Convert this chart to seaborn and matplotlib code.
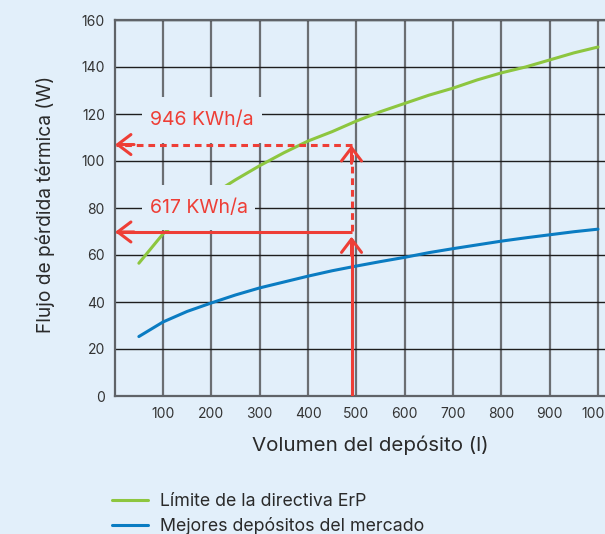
import matplotlib
matplotlib.use("Agg")
import matplotlib.pyplot as plt
from matplotlib.patches import Rectangle
import seaborn as sns
import pandas as pd

# ---------------- data ----------------
volumes = [50, 100, 150, 200, 250, 300, 350, 400, 450, 500,
           550, 600, 650, 700, 750, 800, 850, 900, 950, 1000]
erp_limit = [56.5, 69.0, 78.0, 85.5, 92.0, 98.0, 103.5, 108.5, 112.5, 117.0,
             121.0, 124.5, 128.0, 131.0, 134.5, 137.5, 140.0, 143.0, 146.0, 148.5]
best_market = [25.3, 31.5, 36.0, 39.6, 43.0, 46.0, 48.5, 51.0, 53.3, 55.3,
               57.2, 59.0, 61.0, 62.7, 64.3, 65.9, 67.3, 68.6, 69.9, 71.0]
series_names = ["Límite de la directiva ErP", "Mejores depósitos del mercado"]

x_ticks = [100, 200, 300, 400, 500, 600, 700, 800, 900, 1000]
y_ticks = [0, 20, 40, 60, 80, 100, 120, 140, 160]

sel_volume = 490
loss_erp = 107
loss_best = 69.8
label_erp = "946 KWh/a"
label_best = "617 KWh/a"

# ---------------- style ----------------
BG = "#E2EFFA"
GREEN = "#8DC63F"
BLUE = "#0A7CC2"
RED = "#EE3E36"
TXT = "#2a2a2a"
SPINE = "#5f6368"

sns.set_theme(style="white")
plt.rcParams["font.family"] = ["Inter", "DejaVu Sans"]

fig = plt.figure(figsize=(6.05, 5.34), dpi=100, facecolor=BG)
W, H = 605, 534
left_px, right_px, top_px, bottom_px = 114.7, 605, 20, 396
ax = fig.add_axes([left_px / W, 1 - bottom_px / H,
                   (right_px - left_px) / W, (bottom_px - top_px) / H])
ax.set_facecolor(BG)

df = pd.DataFrame({
    "Volumen": volumes * 2,
    "Flujo": erp_limit + best_market,
    "Serie": [series_names[0]] * len(volumes) + [series_names[1]] * len(volumes),
})
sns.lineplot(data=df, x="Volumen", y="Flujo", hue="Serie",
             palette=[GREEN, BLUE], linewidth=2.2, ax=ax, zorder=2,
             legend=True)

ax.set_xlim(0, 1014.5)
ax.set_ylim(0, 160)
ax.set_xticks(x_ticks)
ax.set_yticks(y_ticks)
ax.tick_params(axis="both", length=0, labelsize=10, labelcolor="#333333")
ax.tick_params(axis="x", pad=8)
ax.tick_params(axis="y", pad=7)

ax.set_axisbelow(True)
ax.grid(axis="x", color="#6b6e72", linewidth=1.6)
ax.grid(axis="y", color="#1e1e1e", linewidth=1.0)

for side in ["left", "bottom", "top"]:
    ax.spines[side].set_visible(True)
    ax.spines[side].set_color(SPINE)
    ax.spines[side].set_linewidth(1.6)
ax.spines["right"].set_visible(False)

ax.set_xlabel("Volumen del depósito (l)", fontsize=14.8, color=TXT, va="center")
ax.xaxis.set_label_coords(0.521, -0.130)
ax.set_ylabel("Flujo de pérdida térmica (W)", fontsize=13.8, color=TXT, va="center")
ax.yaxis.set_label_coords(-0.142, 0.51)

# label boxes (cover the grid and the curve)
ax.add_patch(Rectangle((57, 107.8), 248, 19.5, facecolor=BG, edgecolor="none", zorder=3))
ax.add_patch(Rectangle((57, 70.5), 233, 19.3, facecolor=BG, edgecolor="none", zorder=3))
ax.text(181, 117.5, label_erp, color=RED, fontsize=14, ha="center", va="center", zorder=5)
ax.text(174, 80, label_best, color=RED, fontsize=14, ha="center", va="center", zorder=5)

# red guide lines
lw = 2.2
ax.plot([sel_volume, sel_volume], [0, loss_best - 3], color=RED, lw=lw, zorder=4,
        solid_capstyle="butt")
ax.plot([sel_volume, 3], [loss_best, loss_best], color=RED, lw=lw, zorder=4,
        solid_capstyle="butt")
ax.plot([sel_volume, sel_volume], [loss_best + 0.5, loss_erp - 3], color=RED, lw=lw,
        zorder=4, dashes=[2.2, 1.6])
ax.plot([sel_volume, 3], [loss_erp, loss_erp], color=RED, lw=lw, zorder=4,
        dashes=[2.2, 1.6])

head = dict(arrowstyle="->,head_length=0.95,head_width=0.72", color=RED, lw=lw,
            mutation_scale=10, shrinkA=0, shrinkB=0)
ax.annotate("", xy=(sel_volume, loss_best - 2), xytext=(sel_volume, loss_best - 10),
            arrowprops=head, zorder=4)
ax.annotate("", xy=(sel_volume, loss_erp - 0.3), xytext=(sel_volume, loss_erp - 8),
            arrowprops=head, zorder=4)
ax.annotate("", xy=(1, loss_best), xytext=(40, loss_best), arrowprops=head, zorder=4)
ax.annotate("", xy=(1, loss_erp), xytext=(40, loss_erp), arrowprops=head, zorder=4)

# legend
handles, labels = ax.get_legend_handles_labels()
ax.get_legend().remove()
fs = 12.8
fig.legend(handles, labels, loc="upper left",
           bbox_to_anchor=(112 / W, 1 - 493 / H), bbox_transform=fig.transFigure,
           frameon=False, fontsize=fs, labelcolor=TXT, borderpad=0, borderaxespad=0,
           handlelength=2.0, handletextpad=0.68, labelspacing=0.42)

fig.savefig("out.png", dpi=100, facecolor=BG)
